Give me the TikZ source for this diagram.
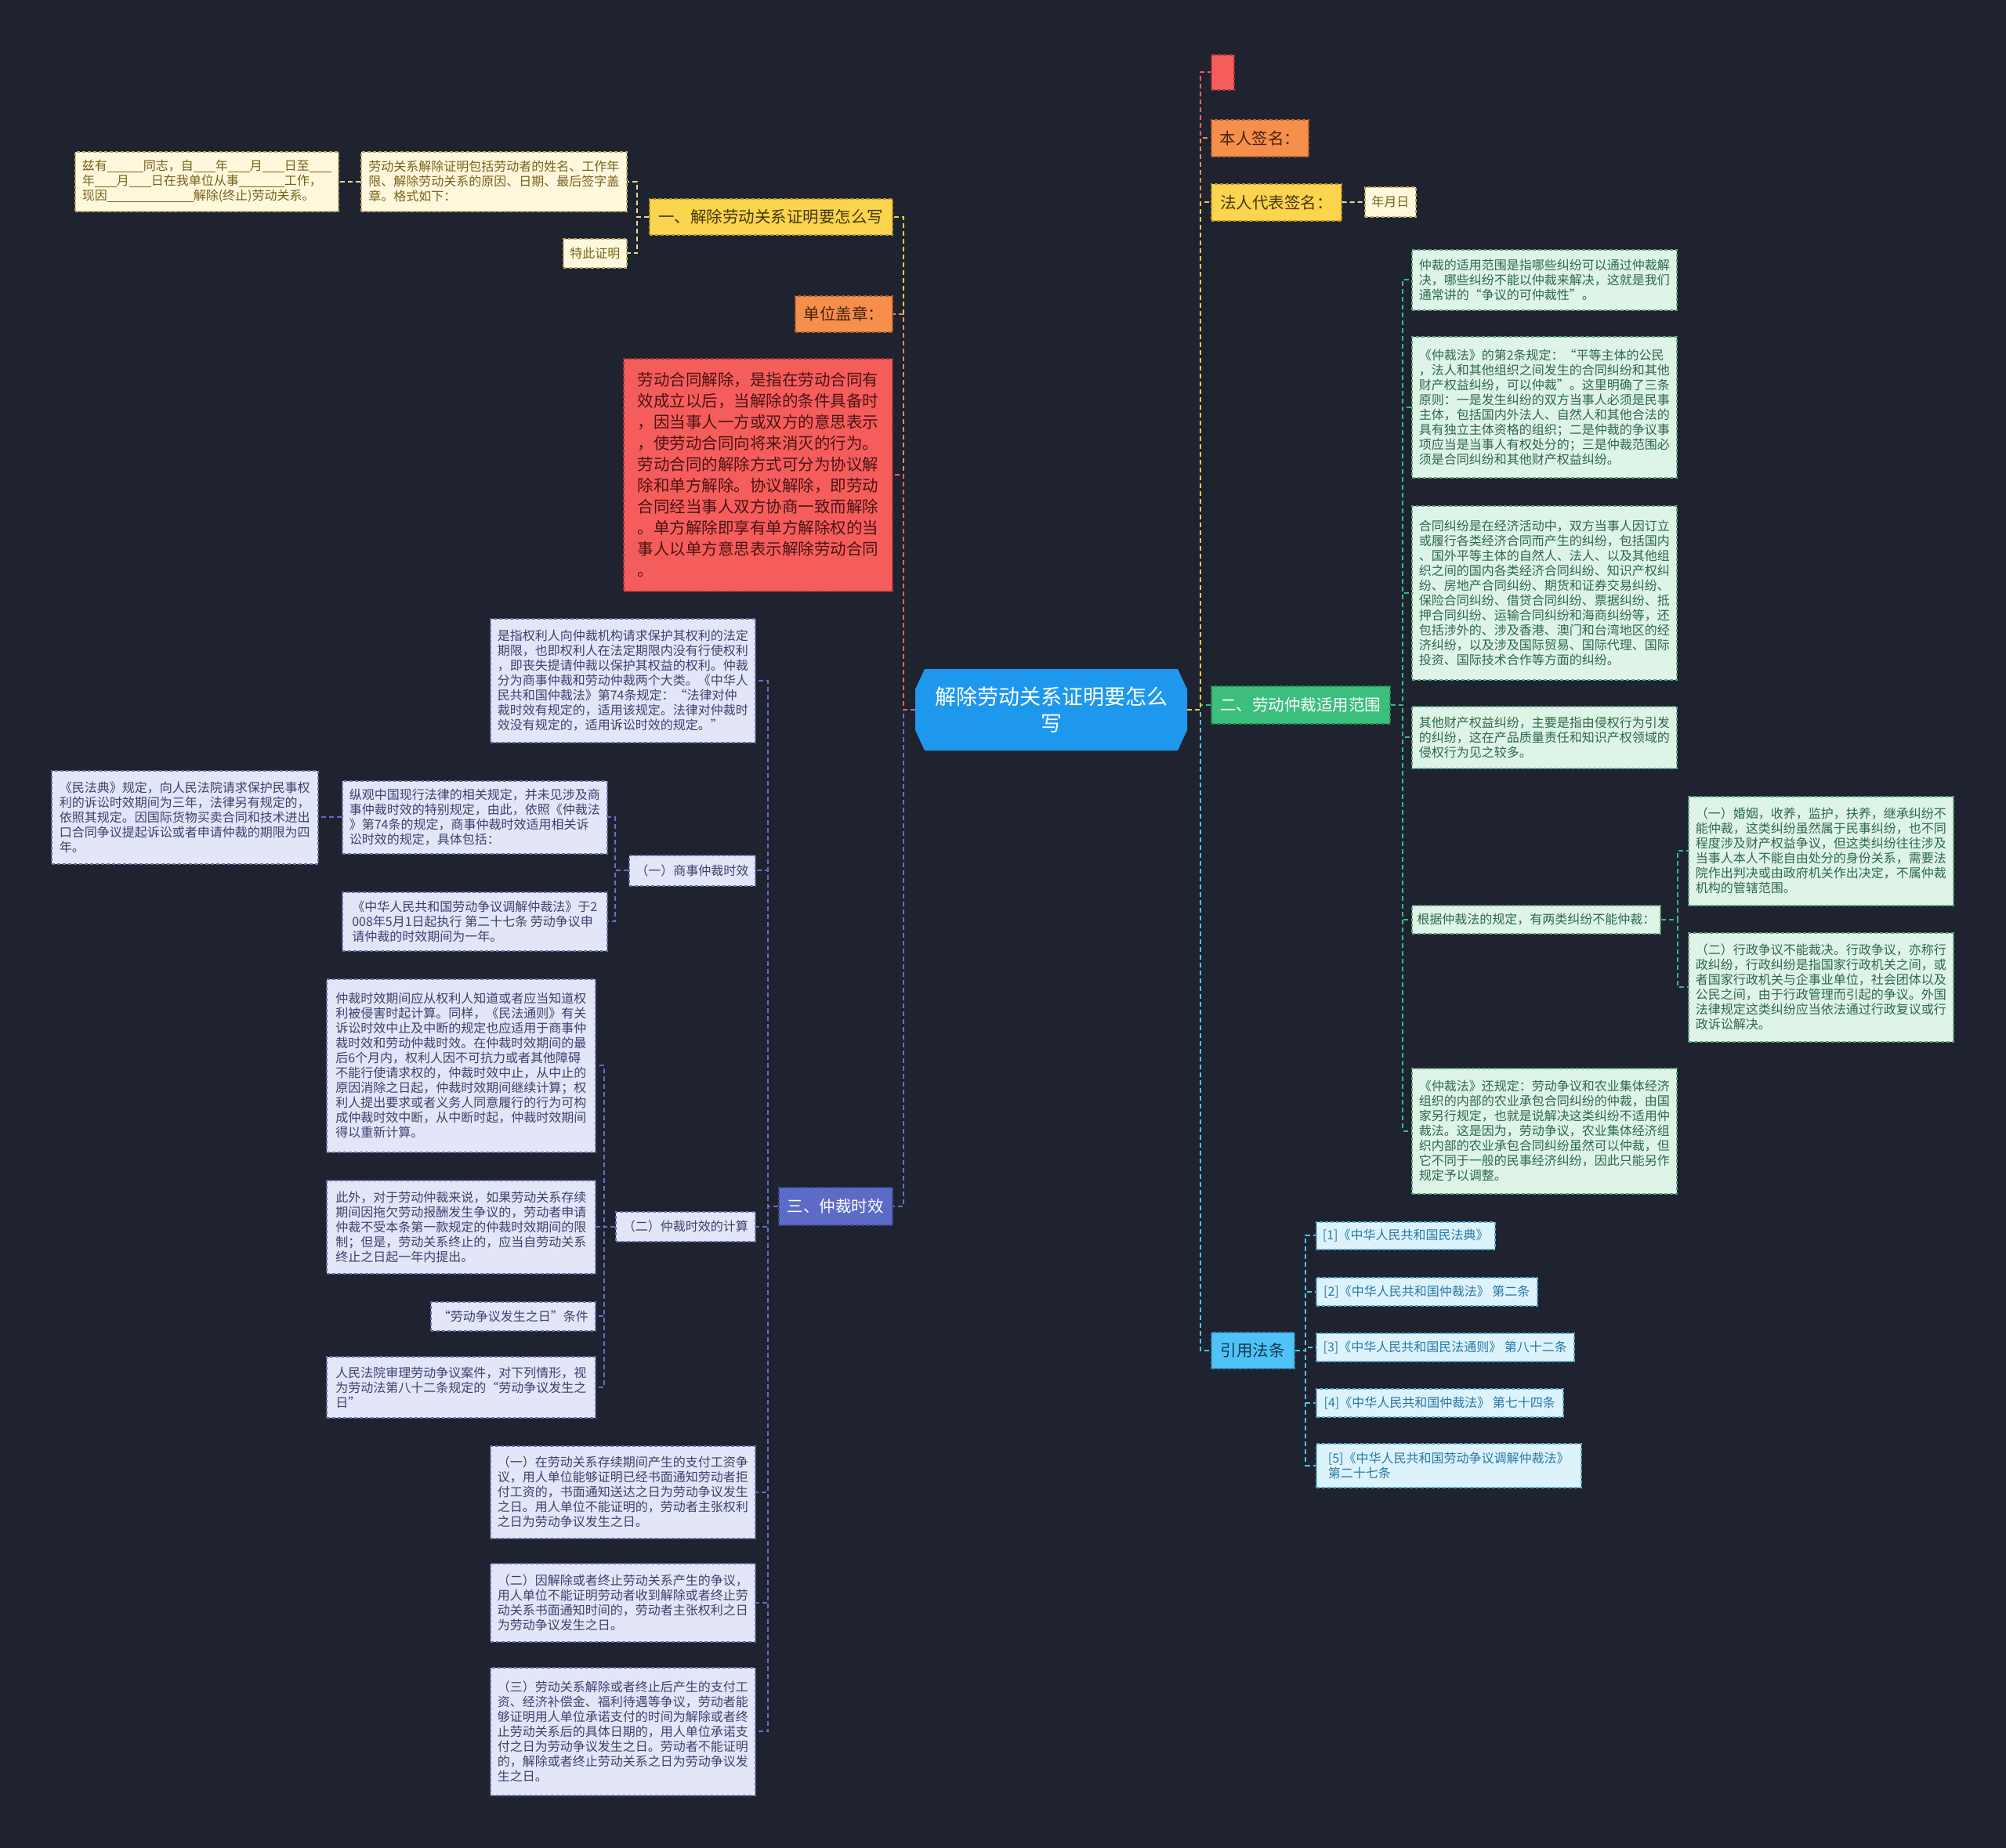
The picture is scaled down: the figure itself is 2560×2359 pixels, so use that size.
\documentclass[tikz,border=0pt]{standalone}
\usepackage{fontspec}
\setmainfont{Noto Sans CJK SC}
\usetikzlibrary{calc}
\definecolor{bgc}{RGB}{31,35,48}
\definecolor{yelF}{RGB}{253,212,78}\definecolor{yelD}{RGB}{190,150,40}\definecolor{yelT}{RGB}{70,55,10}
\definecolor{orF}{RGB}{247,143,76}\definecolor{orD}{RGB}{185,95,40}\definecolor{orT}{RGB}{70,35,10}
\definecolor{redF}{RGB}{245,93,93}\definecolor{redD}{RGB}{170,45,45}\definecolor{redT}{RGB}{75,18,18}
\definecolor{blueF}{RGB}{30,152,236}
\definecolor{indF}{RGB}{92,107,198}\definecolor{indD}{RGB}{60,72,150}
\definecolor{grnF}{RGB}{60,190,125}\definecolor{grnD}{RGB}{35,140,85}
\definecolor{cyF}{RGB}{79,195,247}\definecolor{cyD}{RGB}{40,140,190}\definecolor{cyT}{RGB}{20,55,80}
\definecolor{creamF}{RGB}{255,248,221}\definecolor{creamD}{RGB}{190,170,100}\definecolor{creamT}{RGB}{120,98,25}
\definecolor{lavF}{RGB}{226,230,248}\definecolor{lavD}{RGB}{100,110,170}\definecolor{lavT}{RGB}{60,66,110}
\definecolor{mintF}{RGB}{222,244,231}\definecolor{mintD}{RGB}{90,165,125}\definecolor{mintT}{RGB}{45,105,75}
\definecolor{lcyF}{RGB}{221,243,252}\definecolor{lcyD}{RGB}{85,170,210}\definecolor{lcyT}{RGB}{40,120,165}
\definecolor{cYel}{RGB}{242,200,70}\definecolor{cOr}{RGB}{240,140,80}\definecolor{cRed}{RGB}{240,95,95}
\definecolor{cInd}{RGB}{98,112,200}\definecolor{cGrn}{RGB}{60,185,125}\definecolor{cCy}{RGB}{79,195,247}
\definecolor{cCream}{RGB}{232,214,150}
\newcommand\blk[1]{\rule[-2pt]{#1}{1pt}}
\begin{document}
\begin{tikzpicture}[x=1pt,y=-1pt,
  boxb/.style={anchor=north west, inner sep=0pt, line width=1.5pt, dash pattern=on 4pt off 3pt, align=left},
  sm/.style={font=\fontsize{16}{19}\selectfont},
  md/.style={font=\fontsize{20.5}{27}\selectfont},
  cream/.style={boxb, sm, fill=creamF, draw=creamD, text=creamT},
  lav/.style={boxb, sm, fill=lavF, draw=lavD, text=lavT},
  mint/.style={boxb, sm, fill=mintF, draw=mintD, text=mintT},
  lcy/.style={boxb, sm, fill=lcyF, draw=lcyD, text=lcyT},
  conn/.style={line width=2pt, dash pattern=on 6pt off 4pt},
]
\fill[bgc] (0,0) rectangle (2560,2359);
\useasboundingbox (0,0) rectangle (2560,2359);

% spine coordinates
\coordinate (sL) at (1153,0);
\coordinate (sR) at (1532,0);
\coordinate (s1) at (813,0);
\coordinate (s3) at (980,0);
\coordinate (s3a) at (785,0);
\coordinate (s3b) at (771,0);
\coordinate (s2) at (1790,0);
\coordinate (s2a) at (2141,0);
\coordinate (s5) at (1666,0);

% center
\fill[blueF] (1180,854) -- (1503,854) -- (1515,880) -- (1515,932) -- (1503,958) -- (1180,958) -- (1168,932) -- (1168,880) -- cycle;
\node[minimum width=347pt, minimum height=104pt, inner sep=0pt, align=center, text=white, font=\fontsize{27}{34}\selectfont] (c) at (1341.5,906) {解除劳动关系证明要怎么\\写};

% left main branches
\node[boxb, md, fill=yelF, draw=yelD, text=yelT, minimum width=310pt, minimum height=46pt] (n1) at (828,253) {一、解除劳动关系证明要怎么写};
\node[boxb, md, fill=orF, draw=orD, text=orT, minimum width=124pt, minimum height=46pt] (n2) at (1014,377) {单位盖章：};
\node[boxb, md, fill=redF, draw=redD, text=redT, minimum width=343pt, minimum height=297pt] (n3) at (795,457) {劳动合同解除，是指在劳动合同有\\效成立以后，当解除的条件具备时\\，因当事人一方或双方的意思表示\\，使劳动合同向将来消灭的行为。\\劳动合同的解除方式可分为协议解\\除和单方解除。协议解除，即劳动\\合同经当事人双方协商一致而解除\\。单方解除即享有单方解除权的当\\事人以单方意思表示解除劳动合同\\。};
\node[boxb, md, fill=indF, draw=indD, text=white, minimum width=145pt, minimum height=48pt] (n4) at (993,1515) {三、仲裁时效};

% 一 children
\node[cream, minimum width=339pt, minimum height=76pt] (a1) at (460,193) {劳动关系解除证明包括劳动者的姓名、工作年\\限、解除劳动关系的原因、日期、最后签字盖\\章。格式如下：};
\node[cream, minimum width=336pt, minimum height=76pt] (a2) at (95,193) {兹有\blk{46pt}同志，自\blk{28pt}年\blk{28pt}月\blk{28pt}日至\blk{28pt}\\年\blk{28pt}月\blk{28pt}日在我单位从事\blk{58pt}工作，\\现因\blk{110pt}解除(终止)劳动关系。};
\node[cream, minimum width=81pt, minimum height=37pt] (a3) at (718,304) {特此证明};

% 三 children
\node[lav, minimum width=338pt, minimum height=158pt] (b1) at (625,789) {是指权利人向仲裁机构请求保护其权利的法定\\期限，也即权利人在法定期限内没有行使权利\\，即丧失提请仲裁以保护其权益的权利。仲裁\\分为商事仲裁和劳动仲裁两个大类。《中华人\\民共和国仲裁法》第74条规定：“法律对仲\\裁时效有规定的，适用该规定。法律对仲裁时\\效没有规定的，适用诉讼时效的规定。”};
\node[lav, minimum width=161pt, minimum height=39pt] (b2) at (802,1091) {（一）商事仲裁时效};
\node[lav, minimum width=178pt, minimum height=38pt] (b3) at (785,1546) {（二）仲裁时效的计算};
\node[lav, minimum width=338pt, minimum height=118pt] (b4) at (625,1845) {（一）在劳动关系存续期间产生的支付工资争\\议，用人单位能够证明已经书面通知劳动者拒\\付工资的，书面通知送达之日为劳动争议发生\\之日。用人单位不能证明的，劳动者主张权利\\之日为劳动争议发生之日。};
\node[lav, minimum width=338pt, minimum height=100pt] (b5) at (625,1995) {（二）因解除或者终止劳动关系产生的争议，\\用人单位不能证明劳动者收到解除或者终止劳\\动关系书面通知时间的，劳动者主张权利之日\\为劳动争议发生之日。};
\node[lav, minimum width=338pt, minimum height=163pt] (b6) at (625,2128) {（三）劳动关系解除或者终止后产生的支付工\\资、经济补偿金、福利待遇等争议，劳动者能\\够证明用人单位承诺支付的时间为解除或者终\\止劳动关系后的具体日期的，用人单位承诺支\\付之日为劳动争议发生之日。劳动者不能证明\\的，解除或者终止劳动关系之日为劳动争议发\\生之日。};

\node[lav, minimum width=338pt, minimum height=93pt] (c1) at (436,996) {纵观中国现行法律的相关规定，并未见涉及商\\事仲裁时效的特别规定，由此，依照《仲裁法\\》第74条的规定，商事仲裁时效适用相关诉\\讼时效的规定，具体包括：};
\node[lav, minimum width=338pt, minimum height=75pt] (c2) at (436,1138) {《中华人民共和国劳动争议调解仲裁法》于2\\008年5月1日起执行 第二十七条 劳动争议申\\请仲裁的时效期间为一年。};
\node[lav, minimum width=340pt, minimum height=119pt] (c3) at (65,983) {《民法典》规定，向人民法院请求保护民事权\\利的诉讼时效期间为三年，法律另有规定的，\\依照其规定。因国际货物买卖合同和技术进出\\口合同争议提起诉讼或者申请仲裁的期限为四\\年。};

\node[lav, minimum width=343pt, minimum height=221pt] (d1) at (416,1249) {仲裁时效期间应从权利人知道或者应当知道权\\利被侵害时起计算。同样，《民法通则》有关\\诉讼时效中止及中断的规定也应适用于商事仲\\裁时效和劳动仲裁时效。在仲裁时效期间的最\\后6个月内，权利人因不可抗力或者其他障碍\\不能行使请求权的，仲裁时效中止，从中止的\\原因消除之日起，仲裁时效期间继续计算；权\\利人提出要求或者义务人同意履行的行为可构\\成仲裁时效中断，从中断时起，仲裁时效期间\\得以重新计算。};
\node[lav, minimum width=343pt, minimum height=119pt] (d2) at (416,1506) {此外，对于劳动仲裁来说，如果劳动关系存续\\期间因拖欠劳动报酬发生争议的，劳动者申请\\仲裁不受本条第一款规定的仲裁时效期间的限\\制；但是，劳动关系终止的，应当自劳动关系\\终止之日起一年内提出。};
\node[lav, minimum width=210pt, minimum height=37pt] (d3) at (549,1661) {“劳动争议发生之日”条件};
\node[lav, minimum width=343pt, minimum height=78pt] (d4) at (416,1731) {人民法院审理劳动争议案件，对下列情形，视\\为劳动法第八十二条规定的“劳动争议发生之\\日”};

% right main branches
\node[boxb, fill=redF, draw=redD, minimum width=29pt, minimum height=45pt] (r0) at (1545,69) {};
\node[boxb, md, fill=orF, draw=orD, text=orT, minimum width=124pt, minimum height=47pt] (r1) at (1545,152) {本人签名：};
\node[boxb, md, fill=yelF, draw=yelD, text=yelT, minimum width=166pt, minimum height=47pt] (r2) at (1545,234) {法人代表签名：};
\node[cream, minimum width=65pt, minimum height=38pt] (r3) at (1741,238) {年月日};
\node[boxb, md, fill=grnF, draw=grnD, text=white, minimum width=228pt, minimum height=48pt] (r4) at (1545,875) {二、劳动仲裁适用范围};
\node[boxb, md, fill=cyF, draw=cyD, text=cyT, minimum width=106pt, minimum height=46pt] (r5) at (1545,1700) {引用法条};

% 二 children
\node[mint, minimum width=338pt, minimum height=77pt] (e1) at (1801,318) {仲裁的适用范围是指哪些纠纷可以通过仲裁解\\决，哪些纠纷不能以仲裁来解决，这就是我们\\通常讲的“争议的可仲裁性”。};
\node[mint, minimum width=338pt, minimum height=180pt] (e2) at (1801,429) {《仲裁法》的第2条规定：“平等主体的公民\\，法人和其他组织之间发生的合同纠纷和其他\\财产权益纠纷，可以仲裁”。这里明确了三条\\原则：一是发生纠纷的双方当事人必须是民事\\主体，包括国内外法人、自然人和其他合法的\\具有独立主体资格的组织；二是仲裁的争议事\\项应当是当事人有权处分的；三是仲裁范围必\\须是合同纠纷和其他财产权益纠纷。};
\node[mint, minimum width=338pt, minimum height=222pt] (e3) at (1801,645) {合同纠纷是在经济活动中，双方当事人因订立\\或履行各类经济合同而产生的纠纷，包括国内\\、国外平等主体的自然人、法人、以及其他组\\织之间的国内各类经济合同纠纷、知识产权纠\\纷、房地产合同纠纷、期货和证券交易纠纷、\\保险合同纠纷、借贷合同纠纷、票据纠纷、抵\\押合同纠纷、运输合同纠纷和海商纠纷等，还\\包括涉外的、涉及香港、澳门和台湾地区的经\\济纠纷，以及涉及国际贸易、国际代理、国际\\投资、国际技术合作等方面的纠纷。};
\node[mint, minimum width=338pt, minimum height=79pt] (e4) at (1801,901) {其他财产权益纠纷，主要是指由侵权行为引发\\的纠纷，这在产品质量责任和知识产权领域的\\侵权行为见之较多。};
\node[mint, minimum width=317pt, minimum height=36pt] (e5) at (1801,1155) {根据仲裁法的规定，有两类纠纷不能仲裁：};
\node[mint, minimum width=338pt, minimum height=160pt] (e6) at (1801,1363) {《仲裁法》还规定：劳动争议和农业集体经济\\组织的内部的农业承包合同纠纷的仲裁，由国\\家另行规定，也就是说解决这类纠纷不适用仲\\裁法。这是因为，劳动争议，农业集体经济组\\织内部的农业承包合同纠纷虽然可以仲裁，但\\它不同于一般的民事经济纠纷，因此只能另作\\规定予以调整。};
\node[mint, minimum width=338pt, minimum height=139pt] (f1) at (2154,1016) {（一）婚姻，收养，监护，扶养，继承纠纷不\\能仲裁，这类纠纷虽然属于民事纠纷，也不同\\程度涉及财产权益争议，但这类纠纷往往涉及\\当事人本人不能自由处分的身份关系，需要法\\院作出判决或由政府机关作出决定，不属仲裁\\机构的管辖范围。};
\node[mint, minimum width=338pt, minimum height=139pt] (f2) at (2154,1190) {（二）行政争议不能裁决。行政争议，亦称行\\政纠纷，行政纠纷是指国家行政机关之间，或\\者国家行政机关与企事业单位，社会团体以及\\公民之间，由于行政管理而引起的争议。外国\\法律规定这类纠纷应当依法通过行政复议或行\\政诉讼解决。};

% 引用 children
\node[lcy, minimum width=228pt, minimum height=35pt] (g1) at (1679,1559) {[1]《中华人民共和国民法典》};
\node[lcy, minimum width=282pt, minimum height=36pt] (g2) at (1679,1630) {[2]《中华人民共和国仲裁法》 第二条};
\node[lcy, minimum width=329pt, minimum height=36pt] (g3) at (1679,1701) {[3]《中华人民共和国民法通则》 第八十二条};
\node[lcy, minimum width=315pt, minimum height=36pt] (g4) at (1679,1772) {[4]《中华人民共和国仲裁法》 第七十四条};
\node[lcy, minimum width=338pt, minimum height=56pt] (g5) at (1679,1842) {[5]《中华人民共和国劳动争议调解仲裁法》\\第二十七条};

% connectors: center left
\draw[conn, cInd] (c.west) -- (c.west -| sL) |- (n4.east);
\draw[conn, cYel] (c.west) -- (c.west -| sL) |- (n1.east);
\draw[conn, cOr] (c.west) -- (c.west -| sL) |- (n2.east);
\draw[conn, cRed] (c.west) -- (c.west -| sL) |- (n3.east);
% center right
\draw[conn, cCy] (c.east) -- (c.east -| sR) |- (r5.west);
\draw[conn, cGrn] (c.east) -- (c.east -| sR) |- (r4.west);
\draw[conn, cRed] (c.east) -- (c.east -| sR) |- (r0.west);
\draw[conn, cOr] (c.east) -- (c.east -| sR) |- (r1.west);
\draw[conn, cYel] (c.east) -- (c.east -| sR) |- (r2.west);
\draw[conn, cCream] (r2.east) -- (r3.west);
% 一 subtree
\draw[conn, cCream] (n1.west) -- (n1.west -| s1) |- (a1.east);
\draw[conn, cCream] (n1.west) -- (n1.west -| s1) |- (a3.east);
\draw[conn, cCream] (a1.west) -- (a2.east);
% 三 subtree
\foreach \t in {b1,b2,b3,b4,b5,b6}{\draw[conn, cInd] (n4.west) -- (n4.west -| s3) |- (\t.east);}
\foreach \t in {c1,c2}{\draw[conn, cInd] (b2.west) -- (b2.west -| s3a) |- (\t.east);}
\draw[conn, cInd] (c1.west) -- (c3.east);
\foreach \t in {d1,d2,d3,d4}{\draw[conn, cInd] (b3.west) -- (b3.west -| s3b) |- (\t.east);}
% 二 subtree
\foreach \t in {e1,e2,e3,e4,e5,e6}{\draw[conn, cGrn] (r4.east) -- (r4.east -| s2) |- (\t.west);}
\foreach \t in {f1,f2}{\draw[conn, cGrn] (e5.east) -- (e5.east -| s2a) |- (\t.west);}
% 引用 subtree
\foreach \t in {g1,g2,g3,g4,g5}{\draw[conn, cCy] (r5.east) -- (r5.east -| s5) |- (\t.west);}
\end{tikzpicture}
\end{document}
